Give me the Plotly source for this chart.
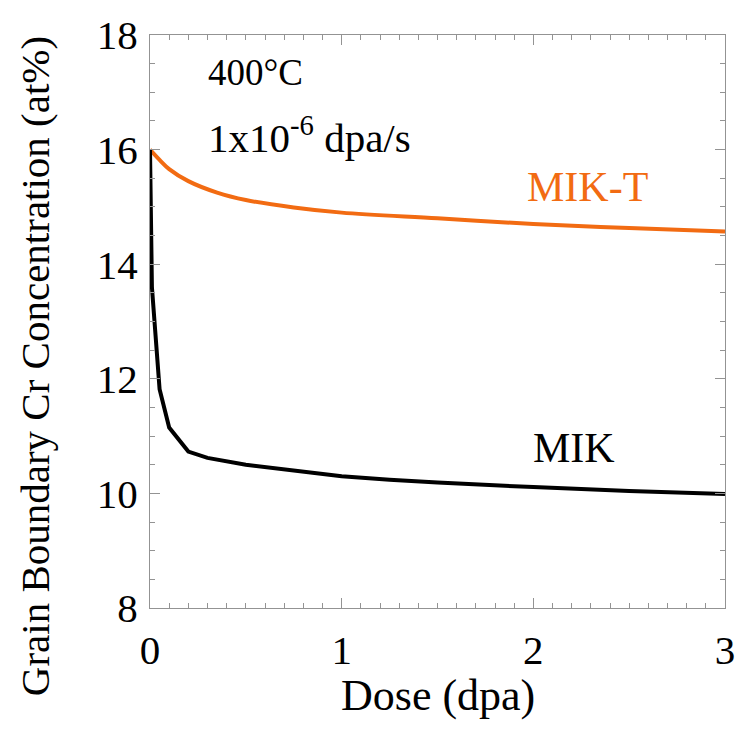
import plotly.graph_objects as go

# Data
dose_mik = [0.0, 0.01, 0.05, 0.1, 0.2, 0.3, 0.5, 0.75, 1.0, 1.25, 1.5, 2.0, 2.5, 3.0]
cr_mik = [16.0, 13.6, 11.82, 11.15, 10.73, 10.62, 10.50, 10.40, 10.30, 10.24, 10.19, 10.11, 10.04, 9.99]

dose_mikt = [0.0, 0.05, 0.1, 0.2, 0.35, 0.5, 0.75, 1.0, 1.5, 2.0, 2.5, 3.0]
cr_mikt = [16.0, 15.82, 15.66, 15.45, 15.25, 15.12, 14.99, 14.90, 14.80, 14.70, 14.63, 14.57]

x_ticks = [0, 1, 2, 3]
y_ticks = [8, 10, 12, 14, 16, 18]

FONT = "Liberation Serif, Times New Roman, serif"
AX = "#939393"
ORANGE = "#f26b12"

fig = go.Figure()
fig.add_trace(go.Scatter(x=dose_mikt, y=cr_mikt, mode="lines", line=dict(color=ORANGE, width=4),
                         line_shape="spline", showlegend=False))
fig.add_trace(go.Scatter(x=dose_mik, y=cr_mik, mode="lines", line=dict(color="black", width=4),
                         showlegend=False))

axis_common = dict(showgrid=False, zeroline=False, showline=True, linecolor=AX, linewidth=1,
                   mirror="allticks", ticks="inside", tickcolor=AX, ticklen=10, tickwidth=1,
                   tickfont=dict(family=FONT, size=41, color="black"))

fig.update_xaxes(range=[0, 3], tickvals=x_ticks, ticktext=[str(v) for v in x_ticks],
                 minor=dict(dtick=0.1, ticks="inside", ticklen=5, tickcolor=AX),
                 ticklabelstandoff=6, **axis_common)
fig.update_yaxes(range=[8, 18], tickvals=y_ticks, ticktext=[str(v) for v in y_ticks],
                 minor=dict(dtick=0.5, ticks="inside", ticklen=5, tickcolor=AX),
                 ticklabelstandoff=3, **axis_common)

# Axis titles
fig.add_annotation(x=0.5, y=-0.152, xref="paper", yref="paper", text="Dose (dpa)", showarrow=False,
                   xanchor="center", yanchor="middle", font=dict(family=FONT, size=44, color="black"))
fig.add_annotation(x=-0.2, y=0.422, xref="paper", yref="paper", text="Grain Boundary Cr Concentration (at%)",
                   showarrow=False, textangle=-90, xanchor="center", yanchor="middle",
                   font=dict(family=FONT, size=41, color="black"))

# In-plot labels
fig.add_annotation(x=0.294, y=17.34, xref="x", yref="y", text="400°C", showarrow=False,
                   xanchor="left", yanchor="middle", font=dict(family=FONT, size=37, color="black"))
fig.add_annotation(x=0.294, y=16.26, xref="x", yref="y", text="1x10<sup>-6</sup> dpa/s", showarrow=False,
                   xanchor="left", yanchor="middle", font=dict(family=FONT, size=41, color="black"))
fig.add_annotation(x=2.28, y=15.34, xref="x", yref="y", text="MIK-T", showarrow=False,
                   font=dict(family=FONT, size=42, color=ORANGE))
fig.add_annotation(x=2.21, y=10.80, xref="x", yref="y", text="MIK", showarrow=False,
                   font=dict(family=FONT, size=42, color="black"))

fig.update_layout(width=747, height=733, margin=dict(l=150, r=18, t=32, b=125),
                  plot_bgcolor="white", paper_bgcolor="white", font=dict(family=FONT))

fig.write_html("out.html")
